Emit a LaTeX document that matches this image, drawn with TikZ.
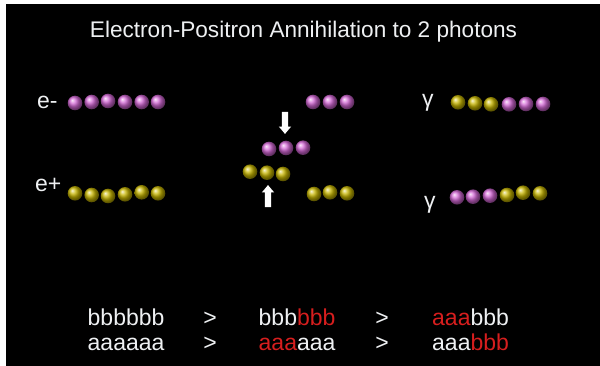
\documentclass[tikz,border=0pt]{standalone}
\usepackage{fontspec}
\setmainfont{Liberation Sans}
\usetikzlibrary{shapes.arrows}
\definecolor{txtwhite}{RGB}{238,240,242}
\definecolor{txtred}{RGB}{214,30,30}
\definecolor{elecpurple}{RGB}{212,104,214}
\definecolor{posyellow}{RGB}{200,182,0}
\tikzset{
  particle/.style={circle, inner sep=0pt, minimum size=14.6pt, draw=none},
  electron/.style={particle, shading=ball, ball color=elecpurple},
  positron/.style={particle, shading=ball, ball color=posyellow},
  label/.style={inner sep=0pt, text=txtwhite, font=\fontsize{23}{27}\selectfont},
  push/.style={single arrow, fill=white, draw=none, inner sep=3pt,
    minimum height=22pt, single arrow head extend=3pt,
    single arrow tip angle=80, single arrow head indent=0pt}
}
\begin{document}
\begin{tikzpicture}[x=1pt, y=-1pt]
  \useasboundingbox (0,0) rectangle (600,366);
  \fill[white] (0,0) rectangle (600,366);
  \fill[black] (6,4) rectangle (600,366);

  % title
  \node[label, anchor=base, font=\fontsize{22.6}{27}\selectfont] (title) at (303.5,37.5)
    {Electron-Positron Annihilation to 2 photons};

  % incoming particles
  \node[label, anchor=base west] (lblem) at (37,109) {e-};
  \node[label, anchor=base west] (lblep) at (35,192) {e+};
  \foreach \x/\y [count=\i] in {75/103,91.7/102,108/101,125/102,141.7/102,158/102}
    \node[electron] (em\i) at (\x,\y) {};
  \foreach \x/\y [count=\i] in {75/193.3,91.7/195,108/196,125/194.3,141.7/192.3,158/193.3}
    \node[positron] (ep\i) at (\x,\y) {};

  % collision stage
  \foreach \x/\y [count=\i] in {313/102,330/102,347/102}
    \node[electron] (ma\i) at (\x,\y) {};
  \foreach \x/\y [count=\i] in {269/149,286/148,303/147.7}
    \node[electron] (mb\i) at (\x,\y) {};
  \foreach \x/\y [count=\i] in {250/171.7,267/172.7,283/174}
    \node[positron] (mc\i) at (\x,\y) {};
  \foreach \x/\y [count=\i] in {314/194,330/192.3,347/193.3}
    \node[positron] (md\i) at (\x,\y) {};
  \node[push, shape border rotate=270] (down) at (285,121) {};
  \node[push, shape border rotate=90] (up) at (268,198) {};

  % outgoing photons
  \node[label, anchor=base west] (lblga) at (422,107) {γ};
  \node[label, anchor=base west] (lblgb) at (424,209) {γ};
  \foreach \x/\y [count=\i] in {458/102.3,475/103.3,491/104.3}
    \node[positron] (ga\i) at (\x,\y) {};
  \foreach \x/\y [count=\i] in {509/104.3,526/104,543/104}
    \node[electron] (gb\i) at (\x,\y) {};
  \foreach \x/\y [count=\i] in {457/197.3,473/196.7,490/195.7}
    \node[electron] (gc\i) at (\x,\y) {};
  \foreach \x/\y [count=\i] in {507/195,523/192.7,540/193.3}
    \node[positron] (gd\i) at (\x,\y) {};

  % letter sequences
  \node[label, anchor=base west] (b1) at (87.5,325) {bbbbbb};
  \node[label, anchor=base] (g1) at (210,325) {>};
  \node[label, anchor=base west] (b2) at (258.5,325) {bbb\textcolor{txtred}{bbb}};
  \node[label, anchor=base] (g2) at (382,325) {>};
  \node[label, anchor=base west] (b3) at (432,325) {\textcolor{txtred}{aaa}bbb};

  \node[label, anchor=base west] (a1) at (87.5,350) {aaaaaa};
  \node[label, anchor=base] (h1) at (210,350) {>};
  \node[label, anchor=base west] (a2) at (258.5,350) {\textcolor{txtred}{aaa}aaa};
  \node[label, anchor=base] (h2) at (382,350) {>};
  \node[label, anchor=base west] (a3) at (432,350) {aaa\textcolor{txtred}{bbb}};
\end{tikzpicture}
\end{document}
